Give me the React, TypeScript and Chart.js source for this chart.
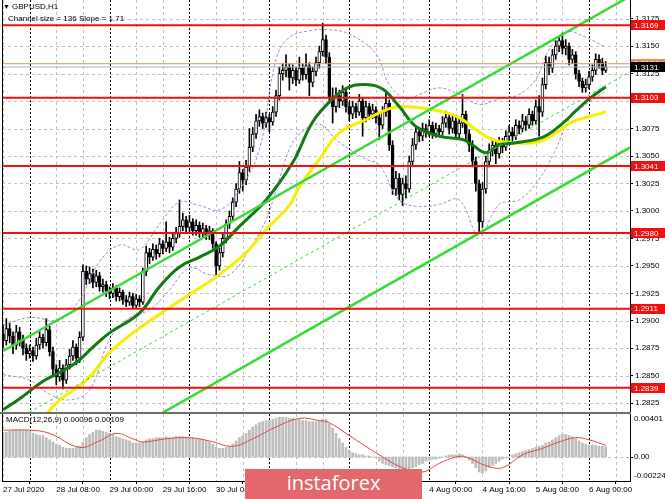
import React, { useEffect, useRef } from 'react';
import { Chart, registerables } from 'chart.js';

Chart.register(...registerables);

const FONT = '"Liberation Sans", Arial, sans-serif';
const X_MIN = -0.3;
const X_MAX = 188.3;

// ---- GBPUSD H1 candles (bar index 0 = 27 Jul 16:00) ----
const opens = [
  1.2888,1.2882,1.2893,1.2886,1.2878,1.2890,1.2883,1.2875,
  1.2870,1.2873,1.2868,1.2878,1.2885,1.2880,1.2892,1.2872,
  1.2856,1.2849,1.2857,1.2846,1.2860,1.2868,1.2876,1.2866,
  1.2885,1.2945,1.2938,1.2943,1.2935,1.2941,1.2931,1.2933,
  1.2927,1.2925,1.2930,1.2922,1.2926,1.2919,1.2917,1.2922,
  1.2914,1.2920,1.2917,1.2945,1.2962,1.2958,1.2965,1.2961,
  1.2970,1.2966,1.2972,1.2967,1.2975,1.2980,1.2986,1.2992,
  1.2985,1.2990,1.2982,1.2987,1.2980,1.2984,1.2978,1.2982,
  1.2970,1.2950,1.2962,1.2975,1.2988,1.2995,1.3008,1.3020,
  1.3035,1.3028,1.3040,1.3058,1.3070,1.3082,1.3086,1.3080,
  1.3085,1.3081,1.3090,1.3105,1.3125,1.3128,1.3131,1.3121,
  1.3128,1.3119,1.3130,1.3124,1.3132,1.3117,1.3127,1.3135,
  1.3145,1.3156,1.3140,1.3103,1.3095,1.3105,1.3100,1.3108,
  1.3095,1.3088,1.3095,1.3090,1.3100,1.3085,1.3095,1.3088,
  1.3092,1.3085,1.3078,1.3090,1.3098,1.3060,1.3020,1.3030,
  1.3015,1.3025,1.3020,1.3045,1.3060,1.3072,1.3068,1.3075,
  1.3072,1.3078,1.3070,1.3075,1.3072,1.3080,1.3085,1.3075,
  1.3082,1.3070,1.3080,1.3088,1.3070,1.3060,1.3045,1.3025,
  1.2990,1.3020,1.3045,1.3055,1.3060,1.3052,1.3062,1.3058,
  1.3068,1.3072,1.3068,1.3078,1.3075,1.3082,1.3078,1.3088,
  1.3082,1.3095,1.3090,1.3115,1.3135,1.3130,1.3142,1.3150,
  1.3155,1.3148,1.3150,1.3138,1.3142,1.3125,1.3118,1.3112,
  1.3115,1.3122,1.3128,1.3138,1.3135,1.3128,
];
const highs = [
  1.2897,1.2902,1.2898,1.2890,1.2896,1.2894,1.2887,1.2879,
  1.2878,1.2876,1.2884,1.2890,1.2888,1.2902,1.2895,1.2876,
  1.2860,1.2864,1.2860,1.2865,1.2874,1.2882,1.2879,1.2890,
  1.2951,1.2950,1.2949,1.2947,1.2946,1.2944,1.2938,1.2936,
  1.2931,1.2934,1.2932,1.2930,1.2928,1.2923,1.2926,1.2925,
  1.2924,1.2923,1.2948,1.2968,1.2966,1.2970,1.2969,1.2975,
  1.2973,1.2990,1.2976,1.2980,1.2985,1.3010,1.2998,1.2995,
  1.2996,1.2993,1.2992,1.2990,1.2989,1.2987,1.2986,1.2984,
  1.2972,1.2966,1.2979,1.2992,1.3000,1.3012,1.3025,1.3045,
  1.3038,1.3046,1.3075,1.3076,1.3088,1.3092,1.3089,1.3090,
  1.3088,1.3095,1.3110,1.3131,1.3134,1.3142,1.3134,1.3133,
  1.3131,1.3140,1.3134,1.3143,1.3135,1.3131,1.3140,1.3150,
  1.3171,1.3160,1.3144,1.3112,1.3112,1.3110,1.3114,1.3111,
  1.3099,1.3100,1.3098,1.3106,1.3103,1.3100,1.3098,1.3097,
  1.3095,1.3089,1.3095,1.3108,1.3101,1.3064,1.3036,1.3034,
  1.3030,1.3032,1.3050,1.3066,1.3077,1.3076,1.3080,1.3079,
  1.3083,1.3081,1.3080,1.3078,1.3086,1.3091,1.3088,1.3087,
  1.3085,1.3085,1.3106,1.3091,1.3074,1.3064,1.3049,1.3028,
  1.3026,1.3050,1.3061,1.3066,1.3064,1.3067,1.3066,1.3073,
  1.3078,1.3076,1.3083,1.3082,1.3088,1.3086,1.3093,1.3091,
  1.3101,1.3105,1.3121,1.3141,1.3140,1.3147,1.3155,1.3158,
  1.3162,1.3156,1.3153,1.3147,1.3145,1.3128,1.3121,1.3120,
  1.3127,1.3133,1.3143,1.3142,1.3139,1.3136,
];
const lows = [
  1.2875,1.2878,1.2880,1.2870,1.2874,1.2877,1.2869,1.2864,
  1.2866,1.2863,1.2865,1.2874,1.2875,1.2877,1.2868,1.2850,
  1.2842,1.2845,1.2838,1.2843,1.2856,1.2864,1.2860,1.2862,
  1.2882,1.2933,1.2934,1.2930,1.2931,1.2927,1.2926,1.2922,
  1.2920,1.2921,1.2918,1.2918,1.2915,1.2913,1.2914,1.2911,
  1.2912,1.2913,1.2915,1.2941,1.2952,1.2955,1.2956,1.2958,
  1.2961,1.2963,1.2962,1.2964,1.2971,1.2976,1.2982,1.2980,
  1.2981,1.2978,1.2978,1.2976,1.2976,1.2974,1.2974,1.2966,
  1.2942,1.2946,1.2958,1.2971,1.2984,1.2991,1.3004,1.3016,
  1.3018,1.3024,1.3036,1.3054,1.3066,1.3077,1.3075,1.3076,
  1.3072,1.3078,1.3086,1.3101,1.3119,1.3122,1.3110,1.3116,
  1.3114,1.3116,1.3119,1.3120,1.3105,1.3113,1.3123,1.3130,
  1.3141,1.3134,1.3098,1.3080,1.3090,1.3094,1.3096,1.3090,
  1.3082,1.3084,1.3085,1.3087,1.3068,1.3081,1.3083,1.3084,
  1.3080,1.3065,1.3075,1.3086,1.3055,1.3015,1.3014,1.3010,
  1.3005,1.3012,1.3017,1.3041,1.3056,1.3063,1.3064,1.3067,
  1.3068,1.3066,1.3067,1.3068,1.3069,1.3076,1.3070,1.3071,
  1.3066,1.3066,1.3076,1.3064,1.3054,1.3040,1.3018,1.2980,
  1.2985,1.3016,1.3040,1.3050,1.3043,1.3048,1.3053,1.3055,
  1.3063,1.3063,1.3065,1.3070,1.3072,1.3073,1.3075,1.3078,
  1.3079,1.3068,1.3086,1.3111,1.3124,1.3126,1.3138,1.3145,
  1.3143,1.3142,1.3133,1.3134,1.3120,1.3113,1.3108,1.3108,
  1.3111,1.3118,1.3124,1.3130,1.3124,1.3126,
];
const closes = [
  1.2882,1.2893,1.2886,1.2878,1.2890,1.2883,1.2875,1.2870,
  1.2873,1.2868,1.2878,1.2885,1.2880,1.2892,1.2872,1.2856,
  1.2849,1.2857,1.2846,1.2860,1.2868,1.2876,1.2866,1.2885,
  1.2945,1.2938,1.2943,1.2935,1.2941,1.2931,1.2933,1.2927,
  1.2925,1.2930,1.2922,1.2926,1.2919,1.2917,1.2922,1.2914,
  1.2920,1.2917,1.2945,1.2962,1.2958,1.2965,1.2961,1.2970,
  1.2966,1.2972,1.2967,1.2975,1.2980,1.2986,1.2992,1.2985,
  1.2990,1.2982,1.2987,1.2980,1.2984,1.2978,1.2982,1.2970,
  1.2950,1.2962,1.2975,1.2988,1.2995,1.3008,1.3020,1.3035,
  1.3028,1.3040,1.3058,1.3070,1.3082,1.3086,1.3080,1.3085,
  1.3081,1.3090,1.3105,1.3125,1.3128,1.3131,1.3121,1.3128,
  1.3119,1.3130,1.3124,1.3132,1.3117,1.3127,1.3135,1.3145,
  1.3156,1.3140,1.3103,1.3095,1.3105,1.3100,1.3108,1.3095,
  1.3088,1.3095,1.3090,1.3100,1.3085,1.3095,1.3088,1.3092,
  1.3085,1.3078,1.3090,1.3098,1.3060,1.3020,1.3030,1.3015,
  1.3025,1.3020,1.3045,1.3060,1.3072,1.3068,1.3075,1.3072,
  1.3078,1.3070,1.3075,1.3072,1.3080,1.3085,1.3075,1.3082,
  1.3070,1.3080,1.3088,1.3070,1.3060,1.3045,1.3025,1.2990,
  1.3020,1.3045,1.3055,1.3060,1.3052,1.3062,1.3058,1.3068,
  1.3072,1.3068,1.3078,1.3075,1.3082,1.3078,1.3088,1.3082,
  1.3095,1.3090,1.3115,1.3135,1.3130,1.3142,1.3150,1.3155,
  1.3148,1.3150,1.3138,1.3142,1.3125,1.3118,1.3112,1.3115,
  1.3122,1.3128,1.3138,1.3135,1.3128,1.3131,
];

// ---- indicators (bar index, value) ----
const maGreenIdx = [0,5,12,17,22,27,32,41,47,53,59,65,71,79,87,93,99,104,109,114,119,124,131,138,141,145,149,154,162,167,172,176,181];
const maGreenVal = [1.2819,1.2829,1.2845,1.2853,1.2862,1.2876,1.2889,1.2907,1.2931,1.2949,1.2958,1.2968,1.2986,1.3010,1.3044,1.3081,1.3102,1.3113,1.3115,1.3111,1.3095,1.3077,1.3068,1.3065,1.3060,1.3053,1.3060,1.3062,1.3067,1.3077,1.3091,1.3102,1.3113];
const maYellowIdx = [13,17,25,32,39,49,55,64,73,79,86,89,95,101,109,117,125,131,137,142,147,153,161,166,171,176,181];
const maYellowVal = [1.2815,1.2828,1.2846,1.2871,1.2889,1.2910,1.2922,1.2940,1.2962,1.2983,1.3005,1.3022,1.3047,1.3071,1.3083,1.3094,1.3094,1.3091,1.3085,1.3074,1.3065,1.3062,1.3063,1.3071,1.3081,1.3086,1.3090];
const bbUpperIdx = [0,8,17,23,29,35,41,47,53,59,65,71,77,82,86,92,98,104,112,116,121,125,131,137,143,149,155,160,164,169,175,181];
const bbUpperVal = [1.2896,1.2903,1.2901,1.2919,1.2954,1.2969,1.2965,1.2988,1.3008,1.3005,1.3001,1.3019,1.3056,1.3138,1.3158,1.3164,1.3165,1.3161,1.3143,1.3115,1.3102,1.3106,1.3112,1.3106,1.3097,1.3102,1.3106,1.3120,1.3147,1.3163,1.3158,1.3149];
const bbLowerIdx = [0,8,14,20,26,32,38,44,50,56,62,68,74,79,83,86,89,95,100,104,109,113,119,125,131,137,143,149,155,161,166,170,176,181];
const bbLowerVal = [1.2851,1.2846,1.2833,1.2828,1.2837,1.2883,1.2903,1.2910,1.2928,1.2948,1.2942,1.2942,1.2965,1.2992,1.3029,1.3056,1.3070,1.3079,1.3065,1.3056,1.3047,1.3042,1.3010,1.3004,1.3006,1.3010,1.2978,1.3006,1.3010,1.3029,1.3056,1.3083,1.3099,1.3109];

// ---- regression channel ----
const channelIdx = [0, 188.3];
const channelUpper = [1.28725, 1.31954];
const channelMiddle = [1.28032, 1.31266];
const channelLower = [1.27338, 1.30578];

// ---- horizontal levels ----
const levelLines = [1.3169, 1.3103, 1.3041, 1.2980, 1.2911, 1.2839];
const bidPrice = 1.3131;
const askPrice = 1.3134;
const priceTicks = [1.2825,1.285,1.2875,1.29,1.2925,1.295,1.2975,1.3,1.3025,1.305,1.3075,1.31,1.3125,1.315,1.3175];
const priceMin = 1.2817;
const priceMax = 1.3192;

// ---- time axis ----
const gridStep = 8;
const dayStarts = [8, 32, 56, 80, 104, 128, 152, 176];
const xTickIdx = [0, 16, 32, 48, 64, 80, 96, 112, 128, 144, 160, 176];
const xTickLabels = ['27 Jul 2020','28 Jul 08:00','29 Jul 00:00','29 Jul 16:00','30 Jul 08:00','31 Jul 00:00','31 Jul 16:00','3 Aug 08:00','4 Aug 00:00','4 Aug 16:00','5 Aug 08:00','6 Aug 00:00'];

// ---- MACD ----
const macdHist = [
  .0023,.0023,.0024,.0025,.0025,.0025,.0025,.0025,
  .0024,.0022,.0021,.0020,.0020,.0018,.0016,.0014,
  .0012,.0011,.0009,.0008,.0008,.0008,.0009,.0010,
  .0014,.0018,.0021,.0023,.0025,.0025,.0024,.0023,
  .0022,.0021,.0019,.0018,.0017,.0016,.0015,.0013,
  .0013,.0013,.0014,.0016,.0017,.0017,.0018,.0018,
  .0018,.0019,.0018,.0018,.0019,.0019,.0019,.0018,
  .0018,.0018,.0017,.0017,.0016,.0015,.0014,.0012,
  .0009,.0008,.0008,.0009,.0010,.0012,.0015,.0018,
  .0020,.0022,.0025,.0028,.0030,.0032,.0033,.0034,
  .0034,.0035,.0036,.0037,.0037,.0037,.0036,.0036,
  .0035,.0035,.0034,.0034,.0033,.0033,.0033,.0034,
  .0035,.0035,.0031,.0027,.0022,.0017,.0013,.0009,
  .0006,.0004,.0003,.0002,.0002,.0001,.0001,.0000,
  .0000,-.0004,-.0006,-.0007,-.0008,-.0009,-.0010,-.0011,
  -.0012,-.0013,-.0012,-.0010,-.0009,-.0007,-.0006,-.0004,
  -.0003,-.0002,-.0002,-.0001,.0000,.0001,.0002,.0002,
  .0002,.0003,.0002,.0000,-.0003,-.0006,-.0010,-.0014,
  -.0015,-.0013,-.0010,-.0008,-.0006,-.0004,-.0002,-.0001,
  .0000,.0002,.0003,.0004,.0005,.0006,.0007,.0008,
  .0009,.0010,.0011,.0013,.0014,.0016,.0018,.0020,
  .0021,.0021,.0020,.0019,.0017,.0015,.0013,.0012,
  .0011,.0011,.0011,.0010,.0010,.00096,
];
const signalIdx = [0,8,14,23,29,34,39,42,49,56,62,69,75,82,89,95,98,104,113,120,126,131,136,139,145,150,156,162,167,172,176,181];
const signalVal = [0.0025,0.0025,0.0022,0.0009,0.0015,0.0022,0.0017,0.0014,0.0017,0.0018,0.0015,0.0010,0.0017,0.0028,0.0036,0.0034,0.0032,0.0020,0.0002,-0.0010,-0.0014,-0.0006,0.0000,0.0000,-0.0008,-0.0010,0.0002,0.0008,0.0014,0.0018,0.0016,0.00109];
const macdMax = 0.00401;
const macdMin = -0.00224;

const symbolTitle = 'GBPUSD,H1';
const channelTitle = 'Channel size = 136 Slope = 1.71';
const macdLegend = 'MACD(12,26,9) 0.00096 0.00109';
const logoText = 'instaforex';

const pts = (xs: number[], ys: number[]) => xs.map((x, k) => ({ x, y: ys[k] }));

function drawVGrid(ctx: any, a: any, xs: any) {
  ctx.lineWidth = 1;
  for (let i = 0; i <= X_MAX; i += gridStep) {
    const px = Math.round(xs.getPixelForValue(i)) + 0.5;
    if (px < a.left + 1 || px > a.right) continue;
    const day = dayStarts.includes(i);
    ctx.strokeStyle = day ? '#000000' : '#c2c2c2';
    ctx.setLineDash(day ? [2, 2] : [3, 3]);
    ctx.beginPath();
    ctx.moveTo(px, a.top);
    ctx.lineTo(px, a.bottom);
    ctx.stroke();
  }
  ctx.setLineDash([]);
}

const mainPlugin = {
  id: 'mainDecor',
  beforeDatasetsDraw(chart: any) {
    const { ctx, chartArea: a, scales } = chart;
    ctx.save();
    ctx.beginPath();
    ctx.rect(a.left, a.top, a.right - a.left, a.bottom - a.top);
    ctx.clip();
    ctx.strokeStyle = '#c2c2c2';
    ctx.setLineDash([3, 3]);
    ctx.lineWidth = 1;
    priceTicks.forEach((v) => {
      const y = Math.round(scales.y.getPixelForValue(v)) + 0.5;
      ctx.beginPath();
      ctx.moveTo(a.left, y);
      ctx.lineTo(a.right, y);
      ctx.stroke();
    });
    drawVGrid(ctx, a, scales.x);
    ctx.restore();
  },
  afterDraw(chart: any) {
    const { ctx, chartArea: a, scales } = chart;
    ctx.save();
    ctx.fillStyle = '#000';
    ctx.fillRect(a.left, a.top, 1, a.bottom - a.top);
    ctx.font = `8px ${FONT}`;
    ctx.textBaseline = 'middle';
    ctx.textAlign = 'left';
    const tag = (v: number, bg: string, fg: string) => {
      const y = scales.y.getPixelForValue(v);
      ctx.fillStyle = bg;
      ctx.fillRect(a.right + 1, Math.round(y - 5), 34, 10);
      ctx.fillStyle = fg;
      ctx.fillText(v.toFixed(4), a.right + 4, y + 0.5);
    };
    levelLines.forEach((v) => tag(v, '#f01010', '#ffffff'));
    tag(askPrice, '#e8905a', '#ffffff');
    tag(bidPrice, '#000000', '#ffffff');
    ctx.fillStyle = '#000';
    ctx.font = `7px ${FONT}`;
    ctx.fillText('\u25BC', 3, 7);
    ctx.font = `8px ${FONT}`;
    ctx.fillText(symbolTitle, 12, 7);
    ctx.fillText(channelTitle, 8, 18.5);
    ctx.restore();
  },
};

const macdPlugin = {
  id: 'macdDecor',
  beforeDatasetsDraw(chart: any) {
    const { ctx, chartArea: a, scales } = chart;
    ctx.save();
    ctx.beginPath();
    ctx.rect(a.left, a.top, a.right - a.left, a.bottom - a.top);
    ctx.clip();
    drawVGrid(ctx, a, scales.x);
    const y0 = Math.round(scales.y.getPixelForValue(0)) + 0.5;
    ctx.strokeStyle = '#c2c2c2';
    ctx.setLineDash([3, 3]);
    ctx.beginPath();
    ctx.moveTo(a.left, y0);
    ctx.lineTo(a.right, y0);
    ctx.stroke();
    ctx.restore();
  },
  afterDraw(chart: any) {
    const { ctx, chartArea: a, scales } = chart;
    ctx.save();
    ctx.fillStyle = '#6e6e6e';
    ctx.fillRect(0, 0, a.right + 1, 2);
    ctx.fillStyle = '#000';
    ctx.fillRect(a.left, a.top, 1, a.bottom - a.top);
    ctx.font = `8px ${FONT}`;
    ctx.textAlign = 'left';
    ctx.textBaseline = 'middle';
    const y0 = scales.y.getPixelForValue(0);
    ctx.fillText(macdMax.toFixed(5), a.right + 4, a.top + 5);
    ctx.fillText('0.00', a.right + 4, y0);
    ctx.fillText(macdMin.toFixed(5), a.right + 4, a.bottom - 5);
    ctx.fillRect(a.right, Math.round(y0), 3, 1);
    ctx.fillText(macdLegend, 6, a.top + 6);
    ctx.restore();
  },
};

function mainConfig(): any {
  const n = closes.length;
  const idx = closes.map((_, i) => i);
  return {
    type: 'bar',
    data: {
      datasets: [
        { type: 'line', data: pts([X_MIN, X_MAX], [levelLines[0], levelLines[0]]), borderColor: '#f01010', borderWidth: 2, pointRadius: 0, order: 0 },
        ...levelLines.slice(1).map((v) => ({ type: 'line', data: pts([X_MIN, X_MAX], [v, v]), borderColor: '#f01010', borderWidth: 2, pointRadius: 0, order: 0 })),
        { type: 'line', data: pts([X_MIN, X_MAX], [askPrice, askPrice]), borderColor: '#e8905a', borderWidth: 1, pointRadius: 0, order: 1 },
        { type: 'line', data: pts([X_MIN, X_MAX], [bidPrice, bidPrice]), borderColor: '#b4b4b4', borderWidth: 1, pointRadius: 0, order: 1 },
        { type: 'line', data: pts(channelIdx, channelUpper), borderColor: '#36dc36', borderWidth: 2.5, pointRadius: 0, order: 2 },
        { type: 'line', data: pts(channelIdx, channelMiddle), borderColor: '#36dc36', borderWidth: 1, borderDash: [3, 3], pointRadius: 0, order: 2 },
        { type: 'line', data: pts(channelIdx, channelLower), borderColor: '#36dc36', borderWidth: 2.5, pointRadius: 0, order: 2 },
        { type: 'line', data: pts(maGreenIdx, maGreenVal), borderColor: '#127a12', borderWidth: 3, pointRadius: 0, tension: 0.4, order: 3 },
        { type: 'line', data: pts(maYellowIdx, maYellowVal), borderColor: '#f4f000', borderWidth: 3, pointRadius: 0, tension: 0.4, order: 4 },
        { type: 'line', data: pts(bbUpperIdx, bbUpperVal), borderColor: '#a68ad4', borderWidth: 1, borderDash: [3, 2], pointRadius: 0, tension: 0.4, order: 5 },
        { type: 'line', data: pts(bbLowerIdx, bbLowerVal), borderColor: '#a68ad4', borderWidth: 1, borderDash: [3, 2], pointRadius: 0, tension: 0.4, order: 5 },
        {
          type: 'bar',
          data: idx.map((i) => ({ x: i, y: [Math.min(opens[i], closes[i]), Math.max(opens[i], closes[i])] })),
          backgroundColor: idx.map((i) => (closes[i] >= opens[i] ? '#ffffff' : '#000000')),
          borderColor: '#000000', borderWidth: 1, borderSkipped: false,
          barThickness: 3, grouped: false, order: 6,
        },
        {
          type: 'bar',
          data: idx.map((i) => ({ x: i, y: [lows[i], highs[i]] })),
          backgroundColor: '#000000', barThickness: 1, grouped: false, order: 7,
        },
      ],
    },
    options: {
      responsive: false,
      animation: false,
      events: [],
      plugins: { legend: { display: false }, tooltip: { enabled: false } },
      layout: { padding: { left: 2, top: 0, right: 0, bottom: 0 } },
      scales: {
        x: { type: 'linear', min: X_MIN, max: X_MAX, display: false, offset: false },
        y: {
          type: 'linear', position: 'right', min: priceMin, max: priceMax,
          afterBuildTicks: (s: any) => { s.ticks = priceTicks.map((v) => ({ value: v })); },
          ticks: { autoSkip: false, padding: 2, color: '#000', font: { family: FONT, size: 8 }, callback: (v: any) => Number(v).toFixed(4) },
          grid: { display: true, drawOnChartArea: false, drawTicks: true, tickLength: 3, color: '#000' },
          border: { display: true, color: '#000' },
          afterFit: (s: any) => { s.width = 35; s.paddingTop = 0; s.paddingBottom = 0; },
        },
      },
    },
    plugins: [mainPlugin],
  };
}

function macdConfig(): any {
  const idx = macdHist.map((_, i) => i);
  return {
    type: 'bar',
    data: {
      datasets: [
        { type: 'line', data: pts(signalIdx, signalVal), borderColor: '#e04848', borderWidth: 1, pointRadius: 0, tension: 0.4, order: 0 },
        { type: 'bar', data: idx.map((i) => ({ x: i, y: macdHist[i] })), backgroundColor: '#bdbdbd', barThickness: 2, grouped: false, order: 1 },
      ],
    },
    options: {
      responsive: false,
      animation: false,
      events: [],
      plugins: { legend: { display: false }, tooltip: { enabled: false } },
      layout: { padding: { left: 2, top: 2, right: 0, bottom: 0 } },
      scales: {
        x: {
          type: 'linear', min: X_MIN, max: X_MAX, offset: false,
          afterBuildTicks: (s: any) => { s.ticks = xTickIdx.map((v) => ({ value: v })); },
          ticks: {
            autoSkip: false, maxRotation: 0, minRotation: 0, align: 'start', padding: 1,
            color: '#000', font: { family: FONT, size: 8 },
            callback: (v: any) => { const k = xTickIdx.indexOf(Number(v)); return k >= 0 ? xTickLabels[k] : ''; },
          },
          grid: { display: true, drawOnChartArea: false, drawTicks: true, tickLength: 3, color: '#000' },
          border: { display: true, color: '#000' },
          afterFit: (s: any) => { s.height = 18; s.paddingLeft = 0; s.paddingRight = 0; },
        },
        y: {
          type: 'linear', position: 'right', min: macdMin, max: macdMax,
          ticks: { display: false },
          grid: { display: false },
          border: { display: true, color: '#000' },
          afterFit: (s: any) => { s.width = 35; s.paddingTop = 0; s.paddingBottom = 0; },
        },
      },
    },
    plugins: [macdPlugin],
  };
}

export default function App() {
  const mainRef = useRef<HTMLCanvasElement>(null);
  const macdRef = useRef<HTMLCanvasElement>(null);
  useEffect(() => {
    const main = new Chart(mainRef.current as HTMLCanvasElement, mainConfig());
    const macd = new Chart(macdRef.current as HTMLCanvasElement, macdConfig());
    return () => { main.destroy(); macd.destroy(); };
  }, []);
  return (
    <div style={{ position: 'absolute', left: 0, top: 0, width: 665, height: 499, background: '#ffffff', overflow: 'hidden' }}>
      <canvas ref={mainRef} width={665} height={412} style={{ position: 'absolute', left: 0, top: 0 }} />
      <canvas ref={macdRef} width={665} height={87} style={{ position: 'absolute', left: 0, top: 412 }} />
      <div style={{ position: 'absolute', left: 245, top: 469, width: 177, height: 30, background: '#e2686c', color: '#ffffff', fontFamily: '"Open Sans", sans-serif', fontSize: 20, lineHeight: '28px', textAlign: 'center' }}>{logoText}</div>
    </div>
  );
}
